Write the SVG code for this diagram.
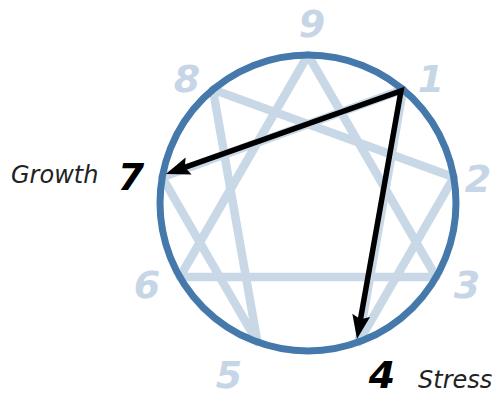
<svg xmlns="http://www.w3.org/2000/svg" width="493" height="396" viewBox="0 0 493 396">
<style>
.ln{fill:none;stroke:#c9d8e7;stroke-width:8.5;stroke-linecap:round;stroke-linejoin:round}
.num{font-family:"DejaVu Sans",Verdana,sans-serif;font-weight:bold;font-style:italic;font-size:38px;text-anchor:middle;fill:#c6d6e6}
.blk{fill:#000}
.lbl{font-family:"DejaVu Sans",Verdana,sans-serif;font-style:italic;font-size:24px;fill:#222}
</style>
<defs>
<marker id="ah" viewBox="-18 -10 28 20" refX="0" refY="0" markerWidth="28" markerHeight="20" markerUnits="userSpaceOnUse" orient="auto-start-reverse">
<path d="M8,0 L-16,-9 L-12,0 L-16,9 Z" fill="#000"/>
</marker>
</defs>
<g id="lines">
<polygon class="ln" points="308,55 436.2,277 179.8,277"/>
<polyline class="ln" points="403.1,89.6 358.6,342.1 453.8,177.3 212.9,89.6 257.4,342.1 162.2,177.3 403.1,89.6"/>
</g>
<g id="circle">
<circle cx="308" cy="203" r="148" fill="none" stroke="#4679ab" stroke-width="7"/>
</g>
<g id="connectors">
<path d="M173.5,171.3 L401,91 L358.4,331.1" fill="none" stroke="#000" stroke-width="5.5" stroke-linejoin="miter" marker-start="url(#ah)" marker-end="url(#ah)"/>
</g>
<g id="n9"><text class="num" x="312" y="37">9</text></g>
<g id="n8"><text class="num" x="187" y="92">8</text></g>
<g id="n1"><text class="num" x="431" y="92">1</text></g>
<g id="n2"><text class="num" x="478" y="192">2</text></g>
<g id="n3"><text class="num" x="467" y="298">3</text></g>
<g id="n6"><text class="num" x="147" y="298">6</text></g>
<g id="n5"><text class="num" x="229" y="388">5</text></g>
<g id="n7"><text class="num blk" x="131" y="190">7</text><text class="lbl" x="11" y="183">Growth</text></g>
<g id="n4"><text class="num blk" x="382" y="388">4</text><text class="lbl" x="418" y="388">Stress</text></g>
</svg>
